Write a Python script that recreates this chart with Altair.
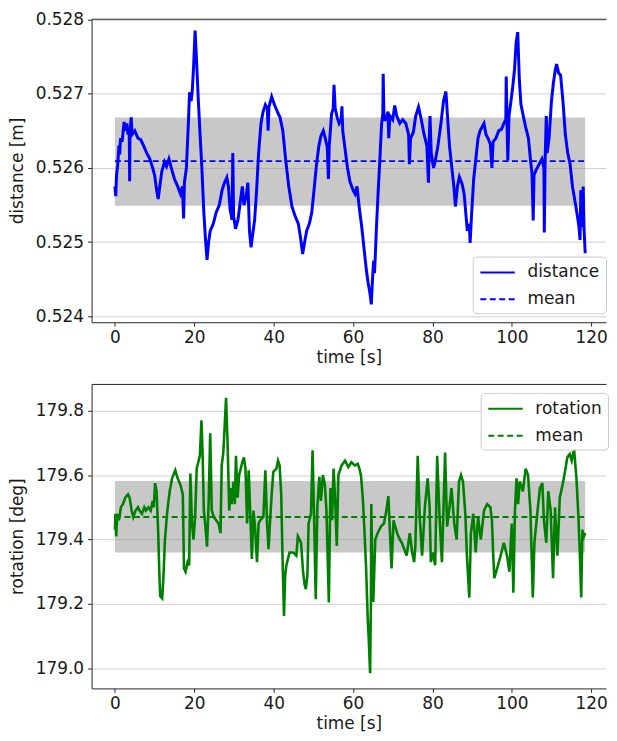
import altair as alt
import pandas as pd

# ---------------- data ----------------
dist_time = [
    0.0, 0.2, 0.4, 0.7, 1.0, 1.2, 1.4, 1.8, 2.3, 2.7, 3.0, 3.3, 3.6, 3.7, 3.8, 4.1, 4.3,
    5.0, 5.8, 6.5, 7.2, 8.0, 8.8, 9.5, 10.0, 10.5, 10.9, 11.3, 11.8, 12.5, 13.0, 13.6,
    14.2, 15.0, 15.8, 16.5, 17.0, 17.3, 17.5, 18.0, 18.5, 18.8, 19.2, 19.5, 19.8, 20.2,
    20.6, 21.0, 21.5, 21.9, 22.4, 22.8, 23.2, 23.6, 24.0, 24.8, 25.5, 26.3, 27.0, 27.6,
    28.2, 28.6, 29.0, 29.5, 29.7, 29.9, 30.4, 31.0, 31.6, 32.1, 32.5, 33.0, 33.5, 33.9,
    34.3, 34.7, 35.2, 35.7, 36.2, 36.8, 37.3, 37.9, 38.4, 38.6, 38.8, 39.5, 40.2, 41.0,
    41.6, 42.3, 43.0, 43.8, 44.6, 45.4, 46.2, 46.8, 47.3, 47.8, 48.3, 49.0, 49.6, 50.2,
    50.8, 51.4, 51.9, 52.5, 53.0, 53.5, 53.8, 54.0, 54.6, 55.0, 55.2, 55.5, 56.0, 56.5,
    57.0, 57.2, 57.4, 58.0, 58.6, 59.2, 60.0, 60.5, 61.0, 61.6, 62.2, 62.8, 63.3, 63.8,
    64.3, 64.6, 64.9, 65.2, 65.4, 65.6, 65.9, 66.3, 66.7, 67.2, 67.5, 67.6, 67.8, 68.3,
    68.8, 69.0, 69.3, 70.0, 70.5, 71.0, 71.8, 72.5, 73.3, 74.0, 74.2, 74.5, 75.2, 75.8,
    76.5, 77.2, 77.9, 78.6, 79.0, 79.2, 79.4, 79.7, 80.3, 80.8, 81.4, 82.2, 82.8, 83.4,
    83.8, 84.3, 84.8, 85.4, 85.8, 86.3, 86.8, 87.5, 88.0, 88.4, 88.8, 89.3, 89.5, 89.9,
    90.4, 90.9, 91.5, 92.0, 92.5, 93.0, 93.5, 94.0, 94.6, 95.0, 95.3, 96.0, 96.7, 97.4,
    98.0, 98.5, 98.6, 98.8, 99.0, 99.3, 99.8, 100.3, 100.7, 101.1, 101.5, 101.9, 102.3,
    102.9, 103.5, 104.2, 104.7, 105.1, 105.4, 105.6, 106.2, 106.9, 107.6, 108.1, 108.2,
    108.4, 108.7, 108.9, 109.4, 110.0, 110.5, 111.0, 111.3, 111.8, 112.3, 112.9, 113.5,
    114.1, 114.7, 115.3, 115.9, 116.4, 116.9, 117.2, 117.4, 117.6, 117.8, 118.0, 118.2,
    118.5,
]
dist_value = [
    0.52575, 0.52562, 0.52590, 0.52605, 0.52630, 0.52618, 0.52640, 0.52635, 0.52662,
    0.52650, 0.52660, 0.52645, 0.52650, 0.52582, 0.52648, 0.52668, 0.52645,
    0.52650, 0.52640, 0.52638, 0.52630, 0.52620, 0.52612, 0.52600, 0.52590, 0.52570,
    0.52558, 0.52575, 0.52595, 0.52608, 0.52602, 0.52612,
    0.52600, 0.52585, 0.52575, 0.52565, 0.52575, 0.52532, 0.52580, 0.52600, 0.52660,
    0.52702, 0.52690, 0.52705, 0.52735, 0.52785,
    0.52740, 0.52692, 0.52640, 0.52600, 0.52540, 0.52505, 0.52476, 0.52500, 0.52515,
    0.52525, 0.52540, 0.52550, 0.52570, 0.52580,
    0.52587, 0.52575, 0.52545, 0.52530, 0.52620, 0.52535, 0.52518, 0.52530, 0.52555,
    0.52575, 0.52550, 0.52560, 0.52580, 0.52515,
    0.52493, 0.52510, 0.52530, 0.52570, 0.52620, 0.52660, 0.52675, 0.52685, 0.52680,
    0.52650, 0.52682, 0.52696, 0.52685, 0.52675,
    0.52668, 0.52650, 0.52612, 0.52575, 0.52548, 0.52535, 0.52525, 0.52505, 0.52484,
    0.52500, 0.52515, 0.52525, 0.52540, 0.52572,
    0.52605, 0.52630, 0.52643, 0.52650, 0.52640, 0.52628, 0.52585, 0.52630, 0.52673,
    0.52680, 0.52712, 0.52680, 0.52668, 0.52660,
    0.52665, 0.52683, 0.52650, 0.52625, 0.52600, 0.52582, 0.52570, 0.52565, 0.52575,
    0.52545, 0.52520, 0.52490, 0.52465, 0.52445,
    0.52430, 0.52416, 0.52450, 0.52475, 0.52458, 0.52480, 0.52520, 0.52565, 0.52605,
    0.52660, 0.52672, 0.52727, 0.52665, 0.52665,
    0.52676, 0.52640, 0.52670, 0.52665, 0.52684, 0.52670, 0.52660, 0.52665, 0.52660,
    0.52645, 0.52605, 0.52640, 0.52648, 0.52670,
    0.52682, 0.52665, 0.52645, 0.52630, 0.52580, 0.52640, 0.52670, 0.52620, 0.52600,
    0.52612, 0.52630, 0.52662, 0.52690, 0.52703,
    0.52670, 0.52630, 0.52605, 0.52575, 0.52548, 0.52575, 0.52588, 0.52578, 0.52565,
    0.52540, 0.52515, 0.52525, 0.52499, 0.52540,
    0.52585, 0.52610, 0.52640, 0.52650, 0.52655, 0.52660, 0.52645, 0.52640, 0.52632,
    0.52600, 0.52635, 0.52640, 0.52650, 0.52652,
    0.52660, 0.52665, 0.52723, 0.52660, 0.52610, 0.52670, 0.52690, 0.52712, 0.52733,
    0.52769, 0.52783, 0.52720, 0.52686,
    0.52670, 0.52655, 0.52640, 0.52612, 0.52592, 0.52529, 0.52590, 0.52598, 0.52605,
    0.52612, 0.52600, 0.52513,
    0.52610, 0.52670, 0.52620, 0.52640, 0.52690, 0.52715, 0.52733, 0.52740, 0.52728,
    0.52725, 0.52690, 0.52645,
    0.52620, 0.52605, 0.52575, 0.52556, 0.52540, 0.52522, 0.52503, 0.52570, 0.52565,
    0.52520, 0.52575, 0.52520,
    0.52485,
]

rot_time = [
    0.0, 0.1, 0.3, 0.6, 1.0, 1.5, 2.0, 2.6, 3.3, 3.7, 4.2, 4.6, 5.2, 5.8, 6.2, 6.8, 7.4,
    7.8, 8.4, 9.0, 9.5, 9.8, 10.1, 10.5, 10.9, 11.2, 11.4, 11.9, 12.2, 12.6, 13.2, 13.8,
    14.4, 15.2, 15.8, 16.5, 17.1, 17.4, 17.8, 18.3, 18.7, 19.0, 19.4, 19.8, 20.2, 20.6,
    21.0, 21.4, 21.8, 22.1, 22.4, 22.8, 23.2, 23.6, 24.0, 24.4, 24.9, 25.5, 26.1, 26.6,
    26.9, 27.3, 27.6, 28.0, 28.4, 28.8, 29.2, 29.4, 29.9, 30.2, 30.5, 30.9, 31.3, 32.1,
    32.5, 32.9, 33.3, 33.7, 34.1, 34.5, 34.9, 35.3, 35.8, 36.2, 36.6, 37.4, 37.9, 38.3,
    38.7, 39.1, 39.5, 39.9, 40.7, 41.1, 41.5, 41.9, 42.2, 42.6, 42.9, 43.2, 44.0, 44.9,
    45.7, 46.1, 46.5, 46.9, 47.4, 47.8, 48.1, 48.5, 48.8, 49.4, 49.8, 50.2, 50.6, 51.0,
    51.5, 51.9, 52.4, 52.9, 53.3, 53.9, 54.3, 54.7, 55.1, 55.5, 55.9, 56.3, 57.1, 58.0,
    58.8, 59.6, 60.4, 61.2, 61.6, 62.0, 62.5, 62.9, 63.3, 63.7, 64.0, 64.3, 64.5, 64.6,
    64.8, 65.1, 65.6, 66.2, 67.0, 67.8, 68.4, 68.9, 69.2, 69.7, 70.2, 71.1, 71.8, 72.3,
    72.9, 73.5, 74.3, 74.9, 75.4, 75.7, 76.3, 76.8, 77.4, 78.1, 78.8, 79.3, 79.6, 80.1,
    80.7, 81.2, 81.8, 82.4, 83.2, 83.7, 84.3, 84.8, 85.5, 86.1, 86.7, 87.2, 87.7, 88.3,
    88.7, 89.3, 89.7, 90.3, 90.9, 91.5, 92.2, 93.0, 93.8, 94.6, 95.0, 95.3, 95.6, 96.3,
    97.2, 98.0, 98.8, 99.4, 100.0, 100.4, 100.8, 101.2, 101.6, 102.0, 102.8, 103.5,
    104.1, 104.7, 105.3, 105.7, 106.5, 107.1, 107.7, 108.1, 108.7, 109.2, 109.8, 110.4,
    110.9, 111.5, 112.1, 112.8, 113.4, 114.0, 114.6, 115.1, 115.7, 116.3, 116.8, 117.2,
    117.5, 117.8, 118.2, 118.5,
]
rot_value = [
    179.43, 179.48, 179.41, 179.48, 179.46, 179.50, 179.51, 179.53, 179.54, 179.53,
    179.49, 179.47, 179.49, 179.50, 179.49, 179.48, 179.50,
    179.49, 179.50, 179.49, 179.52, 179.50, 179.575, 179.55, 179.42, 179.29, 179.225,
    179.218, 179.28, 179.40, 179.49, 179.55,
    179.59, 179.615, 179.59, 179.57, 179.54, 179.31, 179.30, 179.33, 179.32, 179.605,
    179.45, 179.40, 179.47, 179.62,
    179.64, 179.66, 179.77, 179.66, 179.49, 179.44, 179.378, 179.51, 179.73, 179.49,
    179.47, 179.46, 179.45, 179.42,
    179.63, 179.67, 179.74, 179.84, 179.69, 179.49, 179.56, 179.51, 179.58, 179.51,
    179.66, 179.53, 179.60, 179.64,
    179.655, 179.62, 179.45, 179.615, 179.48, 179.34, 179.49, 179.44, 179.33, 179.45,
    179.46, 179.47, 179.615, 179.46,
    179.37, 179.46, 179.54, 179.61, 179.62, 179.645, 179.63, 179.54, 179.36, 179.163,
    179.29, 179.32, 179.36, 179.36,
    179.35, 179.41, 179.40, 179.39, 179.30, 179.26, 179.246, 179.29, 179.45, 179.48,
    179.677, 179.46, 179.215, 179.50,
    179.595, 179.52, 179.60, 179.57, 179.49, 179.205, 179.56, 179.46, 179.62, 179.52,
    179.38, 179.60, 179.63, 179.645,
    179.625, 179.64, 179.63, 179.635, 179.62, 179.60, 179.52, 179.42, 179.31, 179.154,
    179.08, 178.985, 179.20, 179.51,
    179.35, 179.206, 179.40, 179.42, 179.44, 179.45, 179.49, 179.535, 179.45, 179.31,
    179.46, 179.42, 179.40, 179.39,
    179.37, 179.35, 179.42, 179.36, 179.33, 179.38, 179.66, 179.47, 179.35, 179.50,
    179.59, 179.50, 179.33, 179.36,
    179.32, 179.66, 179.47, 179.33, 179.67, 179.44, 179.50, 179.56, 179.45, 179.40,
    179.58, 179.60, 179.58, 179.48,
    179.35, 179.22, 179.42, 179.48, 179.36, 179.47, 179.40, 179.49, 179.51, 179.50,
    179.46, 179.36, 179.28, 179.31,
    179.35, 179.39, 179.35, 179.30, 179.45, 179.235, 179.49, 179.59, 179.51, 179.58,
    179.55, 179.62,
    179.60, 179.49, 179.22, 179.39, 179.49, 179.56, 179.575, 179.46, 179.39, 179.55,
    179.49, 179.28,
    179.50, 179.35, 179.53, 179.57, 179.61, 179.655, 179.665, 179.645, 179.68, 179.59,
    179.47, 179.34,
    179.22, 179.43, 179.41, 179.42,
]

dist_stats = {"mean": 0.52609, "lo": 0.52549, "hi": 0.52668}
rot_stats = {"mean": 179.47, "lo": 179.36, "hi": 179.582}
t_end = 118.5

x_ticks = [0, 20, 40, 60, 80, 100, 120]
dist_ticks = [0.524, 0.525, 0.526, 0.527, 0.528]
rot_ticks = [179.0, 179.2, 179.4, 179.6, 179.8]

FONT = "DejaVu Sans"
X_DOMAIN = [-5.89, 123.75]
PLOT_W = 517
FRAME = "#262626"


def panel(times, values, stats, name, colour, width, ytitle, ydomain, yticks, yfmt,
          lx, ly, height):
    df = pd.DataFrame({"t": times, "v": values, "series": name})
    mean_df = pd.DataFrame({"t": [0.0, t_end], "v": [stats["mean"]] * 2, "series": "mean"})
    band_df = pd.DataFrame({"t": [0.0], "t2": [t_end], "v": [stats["lo"]], "v2": [stats["hi"]]})

    xscale = alt.Scale(domain=X_DOMAIN, nice=False, zero=False)
    x_bottom = alt.X("t:Q", scale=xscale,
                     axis=alt.Axis(values=x_ticks, format="d", title="time [s]"))
    # top frame line of the axes box (the right edge is cropped in the original)
    x_top = alt.X("t:Q", scale=xscale,
                  axis=alt.Axis(orient="top", labels=False, ticks=False, grid=False,
                                domain=True, title=None))
    x_none = alt.X("t:Q", scale=xscale, axis=None)
    y = alt.Y("v:Q", scale=alt.Scale(domain=ydomain, nice=False, zero=False),
              axis=alt.Axis(values=yticks, format=yfmt, title=ytitle))
    leg = alt.Legend(title=None, orient="none", legendX=lx, legendY=ly,
                     labelFontSize=17, labelFont=FONT, labelColor="#1a1a1a",
                     symbolType="M-2,0H2", symbolStrokeWidth=2, symbolSize=300,
                     symbolOffset=9, labelOffset=20, rowPadding=9, padding=6,
                     fillColor="rgba(255,255,255,0.85)", strokeColor="#cccccc",
                     cornerRadius=4)
    col = alt.Color("series:N", scale=alt.Scale(domain=[name, "mean"], range=[colour, colour]),
                    legend=leg)
    dash = alt.StrokeDash("series:N", scale=alt.Scale(domain=[name, "mean"],
                                                       range=[[1, 0], [6, 3.5]]),
                          legend=leg)

    band = alt.Chart(band_df).mark_rect(color="#919191", opacity=0.5).encode(
        x=x_top, x2="t2:Q", y=y, y2="v2:Q")
    line = alt.Chart(df).mark_line(strokeWidth=width).encode(
        x=x_bottom, y=y, color=col, strokeDash=dash, order="t:Q")
    mean = alt.Chart(mean_df).mark_line(strokeWidth=1.8).encode(
        x=x_none, y=y, color=col, strokeDash=dash)
    return (alt.layer(band, line, mean)
            .resolve_axis(x="independent")
            .properties(width=PLOT_W, height=height))


top = panel(dist_time, dist_value, dist_stats, "distance", "#0000ff", 3.0, "distance [m]",
            [0.52392, 0.52801], dist_ticks, ".3f", 383, 239, 305)
bottom = panel(rot_time, rot_value, rot_stats, "rotation", "#008000", 2.6, "rotation [deg]",
               [178.938, 179.883], rot_ticks, ".1f", 391, 9, 306)

chart = (
    alt.vconcat(top, bottom, spacing=19)
    .resolve_scale(x="independent", y="independent", color="independent",
                   strokeDash="independent")
    .resolve_legend(color="independent", strokeDash="independent")
    .properties(padding={"left": 0, "top": 0, "right": 0, "bottom": 0},
                background="white")
    .configure(font=FONT)
    .configure_view(stroke="transparent", strokeWidth=0)
    .configure_axis(labelFont=FONT, titleFont=FONT, labelFontSize=17, titleFontSize=17,
                    titleFontWeight="normal", labelColor="#1a1a1a", titleColor="#1a1a1a",
                    tickColor=FRAME, domainColor=FRAME, domainWidth=1, tickSize=4,
                    labelPadding=4, gridColor="#d0d0d0", gridWidth=1)
    .configure_axisY(titlePadding=9)
    .configure_axisX(titlePadding=4, labelPadding=3)
)

chart.save("out.html", embed_options={"renderer": "svg", "actions": False})
